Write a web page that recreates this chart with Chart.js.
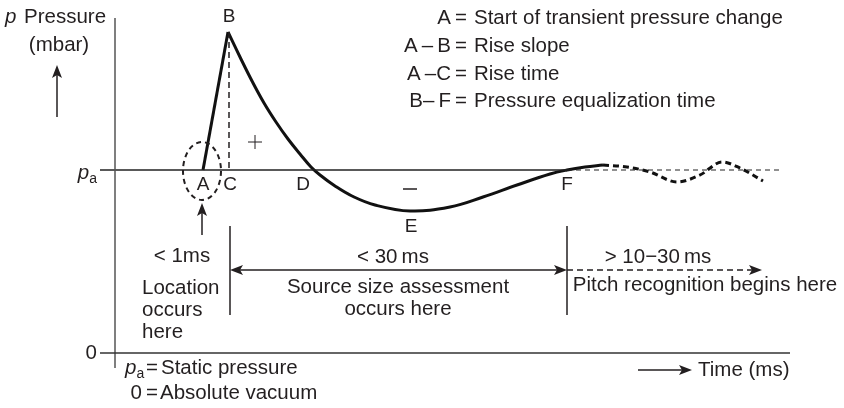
<!DOCTYPE html>
<html lang="en">
<head>
    <meta charset="UTF-8">
    <title>Transient pressure change</title>
    <script src="https://cdn.jsdelivr.net/npm/chart.js"></script>
    <style>
        body { margin: 0; background: #fff; }
        #wrap { width: 844px; height: 408px; }
    </style>
</head>
<body>
    <div id="wrap"><canvas id="pressureChart"></canvas></div>

    <script>
        // schematic units: time from the pressure axis, pressure above absolute vacuum
        const staticPressure = 183;
        const riseTime = [88, 113];
        const risePressure = [183, 321];
        const decayTime = [113, 125, 137, 149, 161, 173, 185, 196, 205, 220, 237, 260, 295, 335, 368, 402, 435, 452, 470, 488];
        const decayPressure = [321, 296, 272, 250, 231, 214, 199, 186, 178, 167, 157, 148, 142, 146, 156, 168, 179, 183, 186, 188];
        const ringTime = [488, 512, 535, 562, 585, 607, 625, 648];
        const ringPressure = [188, 186, 181, 171, 178, 191, 185, 172];
        const baseSolidTime = [-15, 452];
        const baseDashTime = [452, 668];
        const zeroLineTime = [-15, 675];

        // labelled points on the curve
        const pointNames = ['A', 'B', 'C', 'D', 'E', 'F'];
        const pointTimes = [88, 114, 115, 188, 296, 452];

        const legendKeys = ['A', 'A\u2009\u2013\u2009B', 'A\u2009\u2013C', 'B\u2013\u2009F'];
        const legendTexts = ['Start of transient pressure change', 'Rise slope', 'Rise time', 'Pressure equalization time'];

        const toPts = (xs, ys) => xs.map((x, i) => ({ x: x, y: ys[i] }));
        const ink = '#231f20';
        const font = '"Liberation Sans", Arial, sans-serif';
        const fs = 20.5;

        const annotations = {
            id: 'annotations',
            afterDatasetsDraw(chart) {
                const ctx = chart.ctx;
                const X = v => chart.scales.x.getPixelForValue(v);
                const Y = v => chart.scales.y.getPixelForValue(v);

                const text = (s, x, y, align, size, italic) => {
                    ctx.font = (italic ? 'italic ' : '') + (size || fs) + 'px ' + font;
                    ctx.textAlign = align || 'center';
                    ctx.textBaseline = 'middle';
                    ctx.fillStyle = ink;
                    ctx.fillText(s, X(x), Y(y));
                };
                const line = (x1, y1, x2, y2, w, dash, color) => {
                    ctx.beginPath();
                    ctx.setLineDash(dash || []);
                    ctx.lineWidth = w || 1.5;
                    ctx.strokeStyle = color || ink;
                    ctx.moveTo(X(x1), Y(y1));
                    ctx.lineTo(X(x2), Y(y2));
                    ctx.stroke();
                    ctx.setLineDash([]);
                };
                const head = (x, y, dir) => {
                    // dir: 'r', 'l', 'u'
                    const px = X(x), py = Y(y);
                    ctx.beginPath();
                    ctx.fillStyle = ink;
                    if (dir === 'r') { ctx.moveTo(px, py); ctx.lineTo(px - 13, py - 5); ctx.lineTo(px - 10, py); ctx.lineTo(px - 13, py + 5); }
                    if (dir === 'l') { ctx.moveTo(px, py); ctx.lineTo(px + 13, py - 5); ctx.lineTo(px + 10, py); ctx.lineTo(px + 13, py + 5); }
                    if (dir === 'u') { ctx.moveTo(px, py); ctx.lineTo(px - 5, py + 13); ctx.lineTo(px, py + 10); ctx.lineTo(px + 5, py + 13); }
                    ctx.closePath();
                    ctx.fill();
                };
                const pSub = (x, y, align) => {
                    // italic p with subscript a
                    ctx.font = 'italic ' + fs + 'px ' + font;
                    const wp = ctx.measureText('p').width;
                    ctx.font = '14px ' + font;
                    const wa = ctx.measureText('a').width;
                    let left = X(x);
                    if (align === 'right') left -= wp + wa;
                    ctx.fillStyle = ink;
                    ctx.textBaseline = 'middle';
                    ctx.textAlign = 'left';
                    ctx.font = 'italic ' + fs + 'px ' + font;
                    ctx.fillText('p', left, Y(y));
                    ctx.font = '14px ' + font;
                    ctx.fillText('a', left + wp, Y(y) + 6);
                };

                // dashed line B-C
                line(pointTimes[1], risePressure[1], pointTimes[1], staticPressure, 1.5, [6, 4]);

                // dashed ellipse round A
                ctx.beginPath();
                ctx.setLineDash([5, 4]);
                ctx.lineWidth = 2;
                ctx.strokeStyle = ink;
                ctx.ellipse(X(87), Y(182), 19, 29, 0, 0, Math.PI * 2);
                ctx.stroke();
                ctx.setLineDash([]);
                line(87, 118, 87, 142, 1.5);
                head(87, 150, 'u');

                // point labels
                text(pointNames[0], pointTimes[0], 168, 'center', 19);
                text(pointNames[1], pointTimes[1], 336, 'center', 19);
                text(pointNames[2], pointTimes[2], 168, 'center', 19);
                text(pointNames[3], pointTimes[3], 168, 'center', 19);
                text(pointNames[4], pointTimes[4], 126, 'center', 19);
                text(pointNames[5], pointTimes[5], 168, 'center', 19);

                // + and - signs
                line(133, 211, 147, 211, 1);
                line(140, 218, 140, 204, 1);
                line(288, 164, 302, 164, 1.5);

                // phase markers and arrows
                line(pointTimes[2], 127, pointTimes[2], 38, 1.5);
                line(pointTimes[5], 127, pointTimes[5], 38, 1.5);
                line(pointTimes[2] + 8, 83, pointTimes[5] - 8, 83, 1.5);
                head(pointTimes[2], 83, 'l');
                head(pointTimes[5], 83, 'r');
                line(pointTimes[5], 83, 637, 83, 1.5, [6, 4]);
                head(647, 83, 'r');

                text('< 1ms', 67, 97);
                text('Location', 27, 65, 'left');
                text('occurs', 27, 43, 'left');
                text('here', 27, 21, 'left');
                text('< 30\u2009ms', 278, 96);
                text('Source size assessment', 283, 66);
                text('occurs here', 283, 44);
                text('> 10\u221230\u2009ms', 543, 96);
                text('Pitch recognition begins here', 590, 68);

                // legend of letters
                const rows = [335, 307, 279, 252];
                rows.forEach((ry, i) => {
                    text(legendKeys[i], 336, ry, 'right');
                    text('=', 346, ry, 'center');
                    text(legendTexts[i], 359, ry, 'left');
                });

                // axis captions
                text('p', -110, 336, 'left', fs, true);
                text('Pressure', -91, 336, 'left');
                text('(mbar)', -56, 308);
                line(-58, 236, -58, 280, 1.5);
                head(-58, 288, 'u');
                pSub(-18, 180, 'right');
                text('0', -18, 0, 'right');

                // bottom notes
                pSub(10, -15, 'left');
                text('=', 37, -15);
                text('Static pressure', 46, -15, 'left');
                text('0', 27, -40, 'right');
                text('=', 37, -40);
                text('Absolute vacuum', 45, -40, 'left');
                line(523, -17, 568, -17, 1.5);
                head(577, -17, 'r');
                text('Time (ms)', 583, -17, 'left');
            }
        };

        const ctx = document.getElementById('pressureChart').getContext('2d');
        const chart = new Chart(ctx, {
            type: 'scatter',
            data: {
                datasets: [
                    { data: toPts(zeroLineTime, [0, 0]), borderColor: '#333', borderWidth: 1.5 },
                    { data: [{ x: 0, y: -15 }, { x: 0, y: 335 }], borderColor: '#555', borderWidth: 1.5 },
                    { data: toPts(baseSolidTime, [staticPressure, staticPressure]), borderColor: '#222', borderWidth: 1.5 },
                    { data: toPts(baseDashTime, [staticPressure, staticPressure]), borderColor: '#222', borderWidth: 1.2, borderDash: [5, 4] },
                    { data: toPts(riseTime, risePressure), borderColor: '#111', borderWidth: 3 },
                    { data: toPts(decayTime, decayPressure), borderColor: '#111', borderWidth: 3, tension: 0.4 },
                    { data: toPts(ringTime, ringPressure), borderColor: '#111', borderWidth: 3, borderDash: [6, 4], cubicInterpolationMode: 'monotone' }
                ].map(d => Object.assign({ showLine: true, pointRadius: 0, fill: false }, d))
            },
            options: {
                responsive: true,
                maintainAspectRatio: false,
                animation: false,
                layout: { padding: 0 },
                plugins: { legend: { display: false }, tooltip: { enabled: false } },
                scales: {
                    x: { type: 'linear', min: -115, max: 729, display: false },
                    y: { type: 'linear', min: -55, max: 353, display: false }
                }
            },
            plugins: [annotations]
        });
    </script>
</body>
</html>
